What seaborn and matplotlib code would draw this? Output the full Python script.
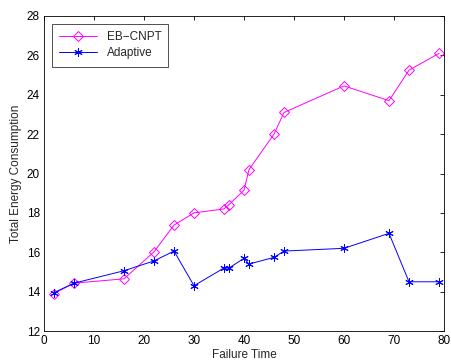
import matplotlib
matplotlib.use("Agg")
import matplotlib.pyplot as plt
import seaborn as sns
import pandas as pd

# Valores
failure_time = [2, 6, 16, 22, 26, 30, 36, 37, 40, 41, 46, 48, 60, 69, 73, 79]
eb_cnpt = [13.9, 14.43, 14.65, 16.02, 17.38, 18.0, 18.2, 18.42, 19.15, 20.2,
           22.0, 23.1, 24.45, 23.7, 25.25, 26.1]
adaptive = [13.95, 14.43, 15.06, 15.56, 16.06, 14.3, 15.2, 15.2, 15.69, 15.4,
            15.74, 16.06, 16.2, 16.96, 14.5, 14.5]

sns.set_style("white")
plt.rcParams['font.family'] = ['Liberation Sans', 'DejaVu Sans']
plt.rcParams['font.size'] = 8.5

fig = plt.figure(figsize=(4.51, 3.63), dpi=100)
ax = fig.add_axes([44 / 451, 1 - 331 / 363, 400 / 451, 315 / 363])

sns.lineplot(x=failure_time, y=eb_cnpt, ax=ax, color="#ff00ff", linewidth=0.7,
             marker="D", markersize=5.5, markerfacecolor="none",
             markeredgecolor="#ff00ff", markeredgewidth=0.7, label="EB\u2212CNPT")
sns.lineplot(x=failure_time, y=adaptive, ax=ax, color="#0000ff", linewidth=0.7,
             marker=(6, 2, 0), markersize=6, markeredgecolor="#0000ff",
             markeredgewidth=0.7, label="Adaptive")

ax.set_xlim(0, 80)
ax.set_ylim(12, 28)
ax.set_xticks(range(0, 81, 10))
ax.set_yticks(range(12, 29, 2))
ax.set_xlabel("Failure Time", labelpad=1)
ax.set_ylabel("Total Energy Consumption", labelpad=3)

ax.tick_params(direction="in", length=3, width=0.6, top=True, right=True,
               labelsize=8.5, colors="black", pad=3)
for sp in ax.spines.values():
    sp.set_linewidth(0.6)
    sp.set_color("black")

leg = ax.legend(loc="upper left", fontsize=8.5, frameon=True, fancybox=False,
                edgecolor="black", borderpad=0.6, handlelength=3.2,
                labelspacing=0.35, borderaxespad=0.7)
leg.get_frame().set_linewidth(0.6)

fig.savefig("out.png", dpi=100)
